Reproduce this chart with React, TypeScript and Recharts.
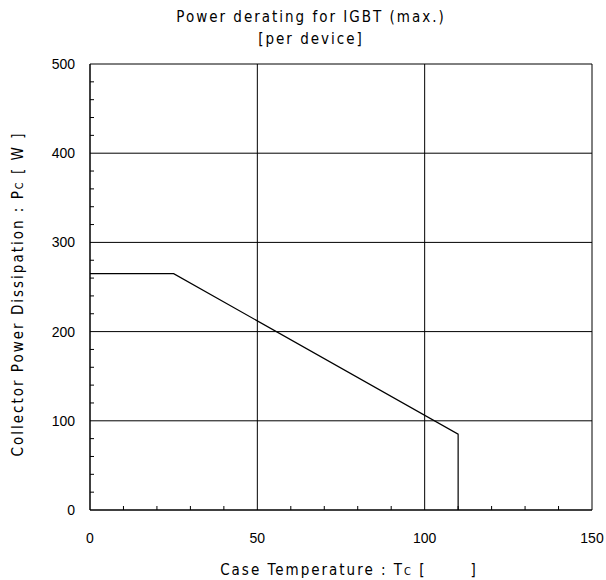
import React from 'react';
import { LineChart, Line, XAxis, YAxis, CartesianGrid } from 'recharts';

const temps = [0, 25, 110, 110];
const power = [265, 265, 85, 0];

const xTicks = [0, 10, 20, 30, 40, 50, 60, 70, 80, 90, 100, 110, 120, 130, 140, 150];
const yTicks = [0, 20, 40, 60, 80, 100, 120, 140, 160, 180, 200, 220, 240, 260, 280, 300, 320, 340, 360, 380, 400, 420, 440, 460, 480, 500];
const xGrid = [50, 100, 150];
const yGrid = [100, 200, 300, 400, 500];

const data = temps.map((t, i) => ({ t, p: power[i] }));

const labelFont = '"Liberation Sans Narrow", "DejaVu Sans Condensed", "Liberation Sans", Arial, sans-serif';
const tickFont = '"Liberation Sans", Arial, sans-serif';

function XTick(props: any) {
  const { x, y, payload } = props;
  const v = payload.value;
  const major = v % 50 === 0;
  return (
    <g>
      {!major && <line x1={x} y1={y} x2={x} y2={y - 4} stroke="#000" />}
      {major && (
        <text x={x} y={y + 33} textAnchor="middle" fontSize={14} fontFamily={tickFont} fill="#000">
          {v}
        </text>
      )}
    </g>
  );
}

function YTick(props: any) {
  const { x, y, payload } = props;
  const v = payload.value;
  const major = v % 100 === 0;
  return (
    <g>
      {!major && <line x1={x} y1={y} x2={x + 4} y2={y} stroke="#000" />}
      {major && (
        <text x={x - 15} y={y + 5} textAnchor="end" fontSize={14} fontFamily={tickFont} fill="#000">
          {v}
        </text>
      )}
    </g>
  );
}

export default function App() {
  return (
    <div style={{ position: 'absolute', left: 0, top: 0, background: '#fff' }}>
      <LineChart width={606} height={580} data={data} margin={{ top: 64, right: 14, bottom: 0, left: 0 }}>
        <CartesianGrid
          stroke="#000"
          strokeWidth={1}
          verticalValues={xGrid}
          horizontalValues={yGrid}
        />
        <XAxis
          type="number"
          dataKey="t"
          domain={[0, 150]}
          ticks={xTicks}
          interval={0}
          tickLine={false}
          tickSize={0}
          tickMargin={0}
          axisLine={{ stroke: '#000', strokeWidth: 1.5 }}
          tick={<XTick />}
          height={70}
        />
        <YAxis
          type="number"
          domain={[0, 500]}
          ticks={yTicks}
          interval={0}
          tickLine={false}
          tickSize={0}
          tickMargin={0}
          axisLine={{ stroke: '#000', strokeWidth: 1.5 }}
          tick={<YTick />}
          width={90}
        />
        <Line
          type="linear"
          dataKey="p"
          stroke="#000"
          strokeWidth={1.2}
          dot={false}
          isAnimationActive={false}
        />
        <text x={311} y={22} textAnchor="middle" fontSize={15} fontFamily={labelFont} letterSpacing={2} fill="#000">
          Power derating for IGBT (max.)
        </text>
        <text x={311} y={44} textAnchor="middle" fontSize={15} fontFamily={labelFont} letterSpacing={2} fill="#000">
          [per device]
        </text>
        <text x={349} y={575} textAnchor="middle" fontSize={15} fontFamily={labelFont} letterSpacing={2} fill="#000">
          Case Temperature : T<tspan fontSize={11}>C</tspan> [{'\u00a0\u00a0\u00a0\u00a0\u00a0\u00a0\u00a0'}]
        </text>
        <text
          x={23}
          y={294}
          textAnchor="middle"
          fontSize={15}
          fontFamily={labelFont}
          letterSpacing={2}
          fill="#000"
          transform="rotate(-90 23 294)"
        >
          Collector Power Dissipation : P<tspan fontSize={11}>C</tspan> [ W ]
        </text>
      </LineChart>
    </div>
  );
}
